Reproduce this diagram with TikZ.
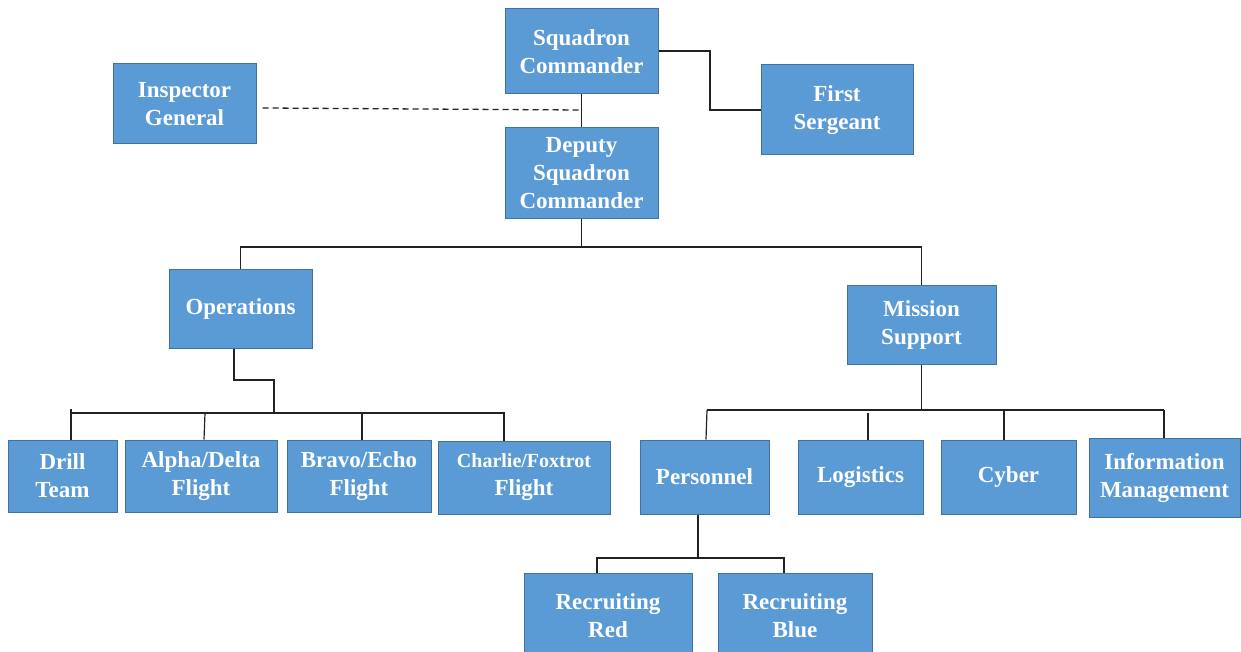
\documentclass[tikz,border=0pt]{standalone}
\usepackage{fontspec}
\setmainfont{Liberation Serif}
\definecolor{boxfill}{HTML}{5B9BD5}
\definecolor{boxline}{HTML}{41719C}
\definecolor{wire}{HTML}{222222}
\begin{document}
\begin{tikzpicture}[x=1pt,y=-1pt,
  box/.style={draw=boxline, fill=boxfill, line width=1pt, text=white,
    font=\fontsize{23}{28}\selectfont\bfseries, align=center, inner sep=0pt},
  wire/.style={draw=wire, line width=1.2pt},
  dashwire/.style={draw=wire, line width=1.3pt, dash pattern=on 6pt off 4pt}]
\useasboundingbox (0,0) rectangle (1241,652);
% nodes
\node[box, minimum width=153, minimum height=85] (sc) at (581.5,51.5) {Squadron\\Commander};
\node[box, minimum width=143, minimum height=80] (ig) at (184.5,104) {Inspector\\General};
\node[box, minimum width=152, minimum height=90] (fs) at (837,110) {First\\Sergeant};
\node[box, minimum width=153, minimum height=91] (dep) at (581.5,173.5) {Deputy\\Squadron\\Commander};
\node[box, minimum width=143, minimum height=79] (ops) at (240.5,308.5) {Operations};
\node[box, minimum width=149, minimum height=79] (ms) at (921.5,324.5) {Mission\\Support};
\node[box, minimum width=109, minimum height=72] (drill) at (62.5,476) {Drill\\Team};
\node[box, minimum width=152, minimum height=72] (alpha) at (201,476) {Alpha/Delta\\Flight};
\node[box, minimum width=144, minimum height=72] (bravo) at (359,476) {Bravo/Echo\\Flight};
\node[box, minimum width=172, minimum height=73] (charlie) at (524,477.5) {{\fontsize{20}{28}\selectfont Charlie/Foxtrot}\\Flight};
\node[box, minimum width=129, minimum height=74] (pers) at (704.5,477) {Personnel};
\node[box, minimum width=125, minimum height=74] (log) at (860.5,477) {Logistics};
\node[box, minimum width=135, minimum height=74] (cyber) at (1008.5,477) {Cyber};
\node[box, minimum width=151, minimum height=79] (info) at (1164.5,477.5) {Information\\Management};
\node[box, minimum width=168, minimum height=86] (red) at (608,616) {Recruiting\\Red};
\node[box, minimum width=154, minimum height=86] (blue) at (795,616) {Recruiting\\Blue};
% junction coordinates
\coordinate (igend) at (580,110);
\coordinate (depbus) at (581.5,247);
\coordinate (opsbus) at (274,413);
\coordinate (msbus) at (921.5,410);
\coordinate (persbus) at (698,558);
% connectors
\draw[wire] (sc.east |- 0,51) -- (710,51) |- (fs.west);
\draw[wire] (sc.south) -- (dep.north);
\draw[dashwire] (ig.east |- 0,108) ++(6,0) -- (igend);
\draw[wire] (dep.south) -- (depbus);
\draw[wire] (ops.north) |- (depbus) -| (ms.north);
\draw[wire] (ops.south -| 234,0) |- (274,380) -- (opsbus);
\draw[wire] (71,440) -- (71,409) -- (71,413) -- (504,413) -- (charlie.north -| 504,0);
\draw[wire] (alpha.north -| 204,0) -- (205,413);
\draw[wire] (bravo.north -| 362,0) -- (362,413);
\draw[wire] (ms.south) -- (msbus);
\draw[wire, line width=1.6pt] (707,410) -- (1164,410);
\draw[wire] (pers.north -| 706,0) -- (707,410);
\draw[wire] (log.north -| 868,0) -- (868,413);
\draw[wire] (cyber.north -| 1004,0) -- (1004,410);
\draw[wire] (info.north -| 1164,0) -- (1164,410);
\draw[wire] (pers.south -| 698,0) -- (persbus);
\draw[wire] (red.north -| 597,0) |- (persbus) -| (blue.north -| 784,0);
\end{tikzpicture}
\end{document}
